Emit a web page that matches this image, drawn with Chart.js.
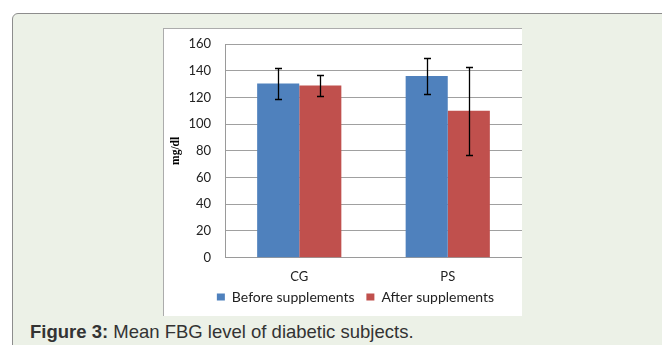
<!DOCTYPE html>
<html><head><meta charset="utf-8">
<script src="https://cdn.jsdelivr.net/npm/chart.js@4/dist/chart.umd.min.js"></script>
<style>
html,body{margin:0;padding:0;background:#fff;width:662px;height:345px;overflow:hidden;position:relative}
#frame{position:absolute;left:12px;top:13px;width:700px;height:400px;border:1px solid #8d8d8d;border-radius:6px;background:#ECF1E7}
#panel{position:absolute;left:163px;top:28px;width:358px;height:287px;background:#fff;border-left:1px solid #acacac;border-top:1px solid #acacac;overflow:hidden}
#cap{position:absolute;left:30px;top:321px;font:18.5px/22px "Liberation Sans",Arial,sans-serif;color:#333;white-space:nowrap}
</style></head>
<body>
<div id="frame"></div>
<div id="panel"><canvas id="c" width="358" height="287"></canvas></div>
<div id="cap"><b>Figure 3:</b> Mean FBG level of diabetic subjects.</div>
<script>
const categories = ['CG', 'PS'];
const seriesNames = ['Before supplements', 'After supplements'];
const beforeValues = [130.5, 136];
const afterValues = [129, 110];
const beforeErrors = [11.5, 13.4];
const afterErrors = [7.6, 33];
const yMin = 0, yMax = 160, yStep = 20;
const yTitle = 'mg/dl';

const errorBars = {
  id: 'errorBars',
  afterDatasetsDraw(chart) {
    const ctx = chart.ctx, y = chart.scales.y;
    chart.data.datasets.forEach((ds, i) => {
      chart.getDatasetMeta(i).data.forEach((bar, j) => {
        const v = ds.data[j], e = ds.errors[j];
        const t = Math.round(y.getPixelForValue(v + e)) + 0.5;
        const b = Math.round(y.getPixelForValue(v - e)) + 0.5;
        const x = Math.round(bar.x) + 0.5;
        ctx.save();
        ctx.strokeStyle = '#000';
        ctx.lineWidth = 1.3;
        ctx.beginPath();
        ctx.moveTo(x, t); ctx.lineTo(x, b);
        ctx.moveTo(x - 3.5, t); ctx.lineTo(x + 3.5, t);
        ctx.moveTo(x - 3.5, b); ctx.lineTo(x + 3.5, b);
        ctx.stroke();
        ctx.restore();
      });
    });
  }
};
const layoutTweaks = {
  id: 'layoutTweaks',
  afterLayout(chart) {
    chart.legend.left += 12.5;
    chart.legend.right += 12.5;
    chart.scales.x.bottom += 12;
  }
};

const chart = new Chart(document.getElementById('c'), {
  type: 'bar',
  data: {
    labels: categories,
    datasets: [
      { label: seriesNames[0], data: beforeValues, errors: beforeErrors, backgroundColor: '#4F81BD', borderWidth: 0 },
      { label: seriesNames[1], data: afterValues, errors: afterErrors, backgroundColor: '#C0504D', borderWidth: 0 }
    ]
  },
  options: {
    responsive: false,
    animation: false,
    devicePixelRatio: 1,
    categoryPercentage: 0.567,
    barPercentage: 1,
    layout: { padding: { left: 0, right: 0, top: 15, bottom: 2 } },
    plugins: {
      tooltip: { enabled: false },
      legend: {
        position: 'bottom',
        labels: { boxWidth: 8, boxHeight: 7, padding: 11.9, color: '#222', font: { family: 'Lato', size: 14 } }
      }
    },
    scales: {
      x: {
        grid: { display: false, drawTicks: false },
        border: { color: '#9a9a9a', width: 1 },
        ticks: { color: '#222', padding: 11.5, font: { family: 'Lato', size: 13 } },
        afterFit(s) { s.height = 20.4; }
      },
      y: {
        min: yMin, max: yMax,
        grid: { color: '#a0a0a0', drawTicks: false },
        border: { color: '#9a9a9a', width: 1 },
        ticks: { stepSize: yStep, padding: 14, color: '#222', font: { family: 'Lato', size: 13 } },
        title: { display: true, text: yTitle, color: '#000', padding: { top: 5, bottom: 0 }, font: { family: 'Liberation Serif', size: 11.5, weight: 'bold' } },
        afterFit(s) { s.width = 61; s.paddingTop = 0; s.paddingBottom = 0; }
      }
    }
  },
  plugins: [errorBars, layoutTweaks]
});
</script>
</body></html>
